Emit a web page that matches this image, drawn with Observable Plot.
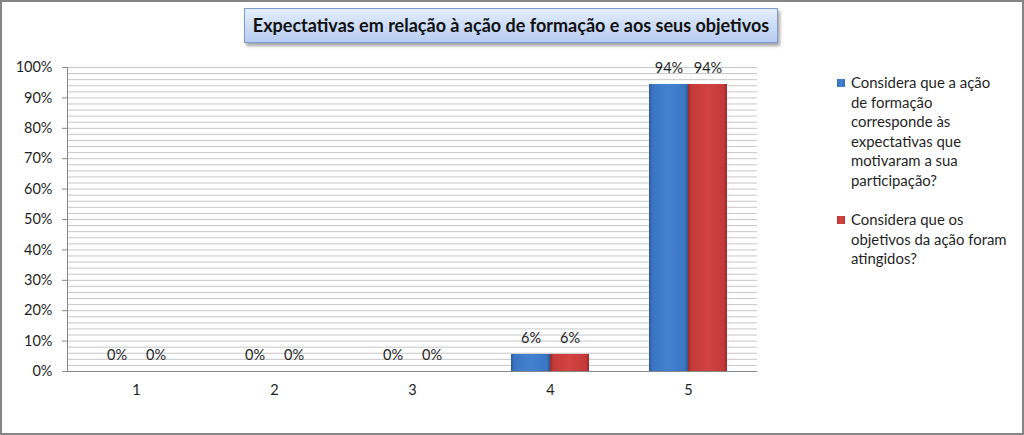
<!DOCTYPE html>
<html>
<head>
<meta charset="utf-8">
<script src="https://cdn.jsdelivr.net/npm/d3@7"></script>
<script src="https://cdn.jsdelivr.net/npm/@observablehq/plot@0.6"></script>
<style>
  html, body { margin: 0; padding: 0; background: #fff; }
  #wrap { position: relative; width: 1024px; height: 435px; overflow: hidden; background: #fff; font-family: Lato, "Open Sans", sans-serif; }
  #border { position: absolute; left: 0; top: 0; width: 1024px; height: 435px; box-sizing: border-box; border: 2px solid #858585; pointer-events: none; }
  #chart { position: absolute; left: 0; top: 0; }
  #title { position: absolute; left: 244px; top: 8px; width: 534px; height: 35px; box-sizing: border-box;
           border: 1px solid #7d9bd0; background: linear-gradient(#e4edfb, #b7cdf2);
           box-shadow: 2px 3px 3px rgba(0,0,0,0.35); text-align: center; line-height: 33px;
           font-weight: bold; font-size: 18px; color: #111; white-space: nowrap; }
  #legend { position: absolute; left: 837px; top: 73px; font-size: 14.9px; color: #1f1f1f; line-height: 19.6px; }
  .item { position: relative; padding-left: 14px; margin-bottom: 19.6px; }
  .sw { position: absolute; left: 0; top: 6px; width: 8px; height: 8px; }
</style>
</head>
<body>
<svg width="0" height="0" style="position:absolute">
  <defs>
    <linearGradient id="gB" x1="0" x2="1" y1="0" y2="0">
      <stop offset="0" stop-color="#2b5894"/>
      <stop offset="0.08" stop-color="#3b75c2"/>
      <stop offset="0.5" stop-color="#4381d0"/>
      <stop offset="0.92" stop-color="#3b75c2"/>
      <stop offset="1" stop-color="#2b5894"/>
    </linearGradient>
    <linearGradient id="gR" x1="0" x2="1" y1="0" y2="0">
      <stop offset="0" stop-color="#962a29"/>
      <stop offset="0.08" stop-color="#c43a38"/>
      <stop offset="0.5" stop-color="#d24341"/>
      <stop offset="0.92" stop-color="#c43a38"/>
      <stop offset="1" stop-color="#962a29"/>
    </linearGradient>
  </defs>
</svg>
<div id="wrap">
  <div id="chart"></div>
  <div id="title"></div>
  <div id="legend"></div>
  <div id="border"></div>
</div>
<script>
const chartTitle = "Expectativas em relação à ação de formação e aos seus objetivos";
const categories = ["1", "2", "3", "4", "5"];
const seriesKeys = ["A", "B"];
const seriesLines = [
  ["Considera que a ação", "de formação", "corresponde às", "expectativas que", "motivaram a sua", "participação?"],
  ["Considera que os", "objetivos da ação foram", "atingidos?"]
];
const seriesFills = ["url(#gB)", "url(#gR)"];
const valuesExpectativas = [0, 0, 0, 0.056, 0.944];
const valuesObjetivos = [0, 0, 0, 0.056, 0.944];
const yTickValues = [0, 0.1, 0.2, 0.3, 0.4, 0.5, 0.6, 0.7, 0.8, 0.9, 1];
const gridValues = d3.range(0, 51).map(i => i / 50);

const table = categories.flatMap((c, i) => [
  {cat: c, series: seriesKeys[0], value: valuesExpectativas[i]},
  {cat: c, series: seriesKeys[1], value: valuesObjetivos[i]}
]);
const pct = d3.format(".0%");

document.getElementById("title").textContent = chartTitle;

const legend = document.getElementById("legend");
seriesLines.forEach((lines, i) => {
  const item = document.createElement("div");
  item.className = "item";
  item.innerHTML = `<svg class="sw" width="8" height="8"><rect width="8" height="8" fill="${seriesFills[i]}"/></svg>` + lines.join("<br>");
  legend.appendChild(item);
});

const plot = Plot.plot({
  width: 1024,
  height: 435,
  marginLeft: 65,
  marginRight: 266,
  marginTop: 67,
  marginBottom: 64,
  style: {fontFamily: "Lato, 'Open Sans', sans-serif", fontSize: "14.5px", color: "#1f1f1f", background: "transparent"},
  fx: {domain: categories, padding: 0, label: null},
  x: {domain: seriesKeys, paddingInner: 0, paddingOuter: 0.73, axis: null},
  y: {domain: [0, 1], label: null},
  marks: [
    Plot.ruleY(gridValues, {stroke: "#c6c6c6", strokeWidth: 1}),
    Plot.barY(table, {filter: d => d.series === seriesKeys[0], fx: "cat", x: "series", y: "value", fill: seriesFills[0]}),
    Plot.barY(table, {filter: d => d.series === seriesKeys[1], fx: "cat", x: "series", y: "value", fill: seriesFills[1]}),
    Plot.text(table, {fx: "cat", x: "series", y: "value", text: d => pct(d.value), dy: -16, fill: "#1f1f1f"}),
    Plot.ruleY([0], {stroke: "#868686"}),
    Plot.frame({anchor: "left", facetAnchor: "left", stroke: "#868686"}),
    Plot.axisY({ticks: yTickValues, tickFormat: pct, tickSize: 5, tickPadding: 10, label: null, stroke: "#868686"}),
    Plot.axisFx({anchor: "bottom", tickSize: 0, tickPadding: 13, label: null})
  ]
});
document.getElementById("chart").appendChild(plot);
</script>
</body>
</html>
